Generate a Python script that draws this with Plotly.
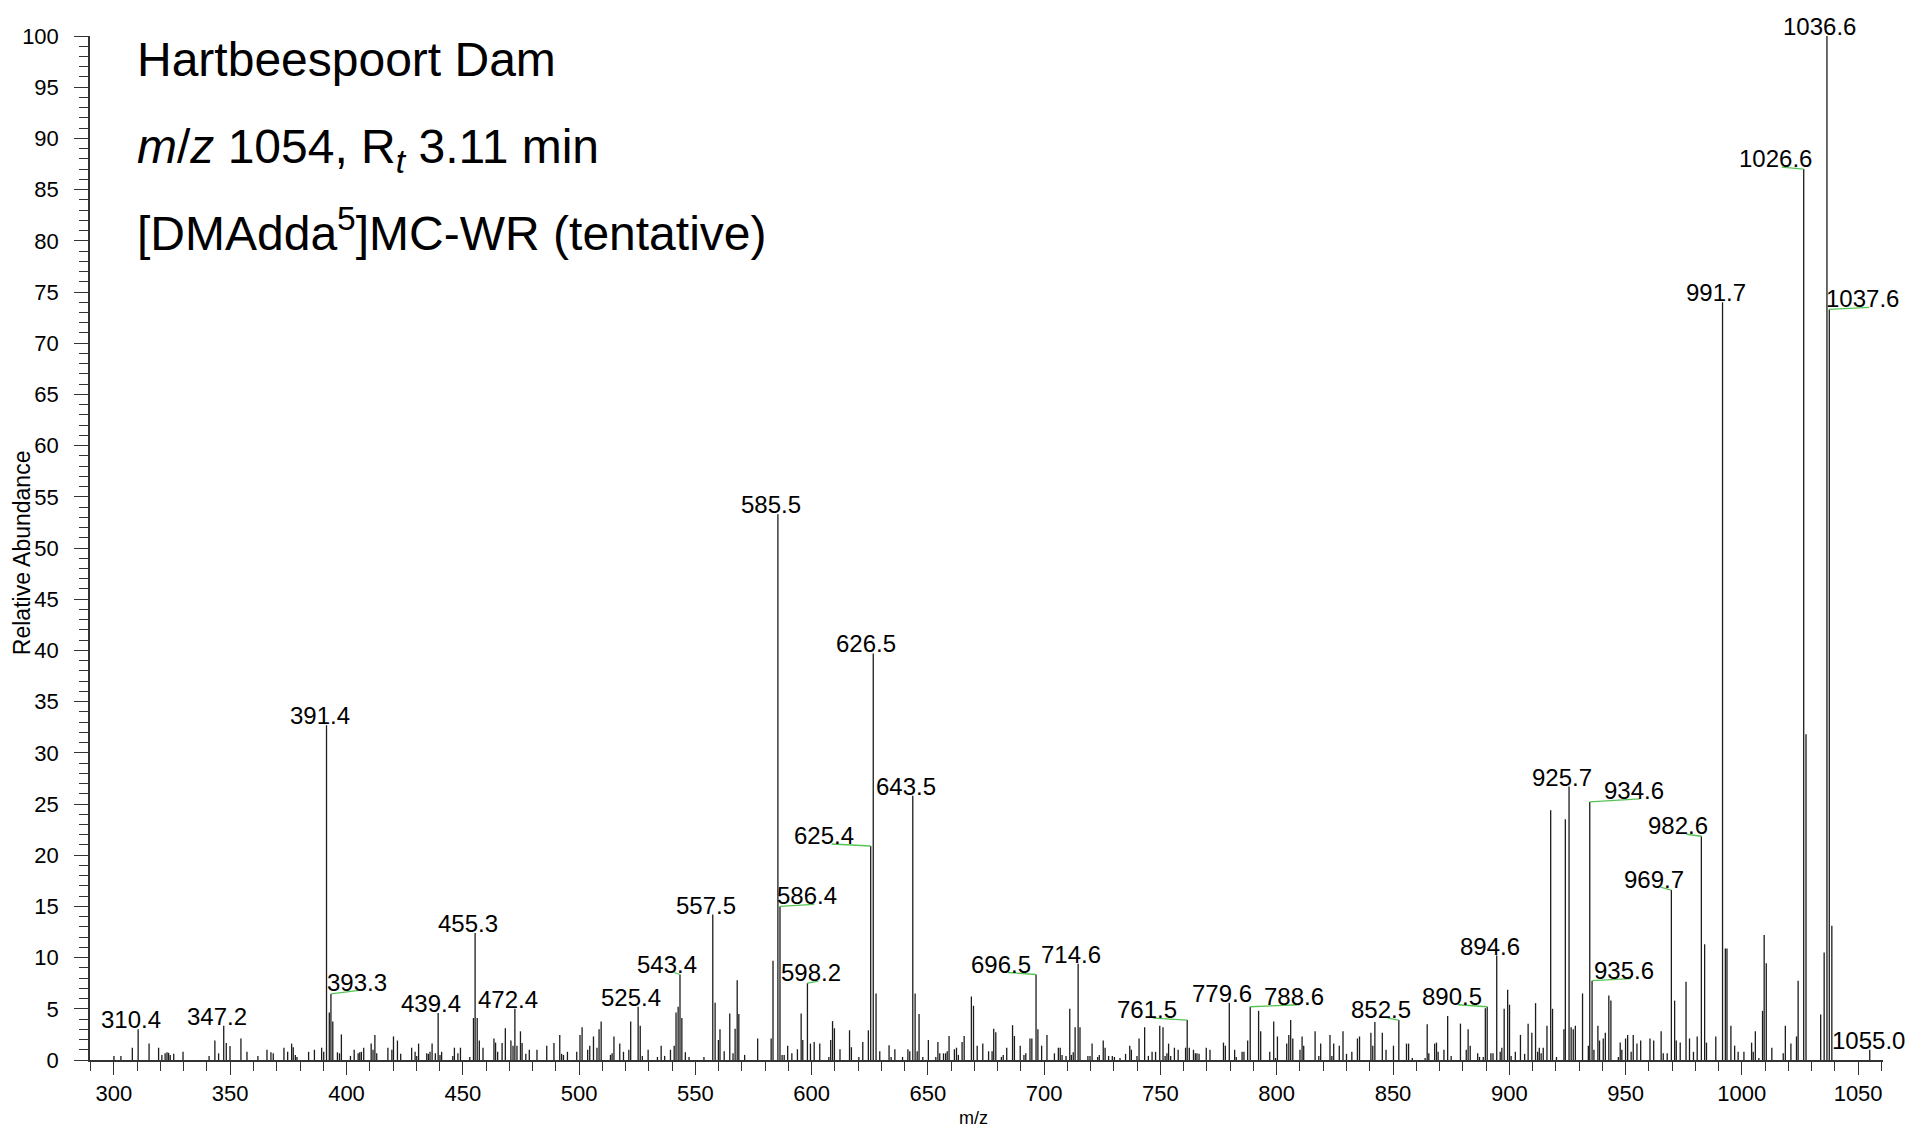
import plotly.graph_objects as go

# ---------------- data ----------------
mz = [
    300.0, 303.0, 307.9, 310.4, 315.1, 319.2, 320.6, 322.0, 322.8, 323.5, 324.2, 325.7, 329.7,
    340.9, 343.4, 345.0, 347.2, 348.3, 349.9, 354.6, 357.2, 361.9, 365.8, 367.5, 368.5, 373.1,
    374.7, 376.4, 377.1, 378.0, 378.7, 383.7, 386.2, 389.3, 390.2, 391.4, 392.6, 393.3, 394.1,
    396.1, 397.0, 397.8, 401.7, 403.3, 405.0, 405.7, 406.4, 407.4, 410.6, 411.4, 412.2, 413.0,
    417.8, 419.5, 420.2, 421.9, 423.3,
    428.0, 429.5, 430.2, 431.0, 434.5, 435.2, 435.9, 436.8, 438.2, 439.4, 440.2, 440.9, 445.7,
    446.4, 447.9, 449.0, 453.0, 454.6, 455.3, 456.2, 457.1, 458.7, 463.4, 464.1, 465.0, 466.9,
    468.3, 470.7, 471.6, 472.4, 473.3, 474.8, 475.5, 477.1, 478.6, 481.9, 486.1, 489.2, 491.7,
    492.5, 493.3, 495.0, 499.0, 500.4, 501.3, 503.7, 504.6, 506.2, 507.7, 508.6, 509.5, 513.5,
    514.2, 515.0, 517.5, 519.1, 521.4, 522.2, 525.4, 526.3, 527.2, 529.7, 533.7, 535.3, 536.8,
    539.3, 540.9, 541.7, 542.6, 543.4, 544.2, 545.7, 547.3, 553.7, 557.5, 558.5,
    559.9, 560.6, 562.4, 564.8, 566.2, 567.1, 568.0, 568.7, 571.2, 576.8, 582.6, 583.4, 585.5,
    586.4, 587.3, 588.2, 589.7, 591.5, 593.9, 595.5, 596.2, 598.2, 599.5, 601.1, 603.5, 607.4,
    608.2, 609.0, 609.8, 612.2, 616.3, 617.1, 620.3, 622.0, 624.4, 625.4, 626.5, 627.7, 629.3,
    633.3, 634.2, 635.8, 639.1, 641.4, 642.2, 643.5, 644.5, 645.4, 646.2, 647.8, 650.2, 653.4,
    654.3, 655.1, 656.7, 657.6, 658.3, 659.1, 661.4, 662.3, 663.1, 664.7, 665.6, 668.7, 669.6,
    671.2, 673.6, 676.1, 677.6, 678.3, 679.2, 681.6, 682.4, 683.9, 686.4, 687.2, 689.7, 691.3,
    692.1, 693.9, 694.7,
    696.5, 697.3, 698.9, 701.2, 704.4, 706.1, 706.9, 707.7, 709.4, 711.0, 711.7, 712.5, 713.3,
    714.6, 715.4, 718.8, 719.7, 720.6, 723.0, 723.7, 725.4, 726.2, 727.7, 729.3, 730.2, 732.6,
    735.0, 736.8, 737.5, 739.9, 740.8, 743.2, 744.8, 746.4, 747.9, 749.7, 751.1, 752.0, 752.8,
    753.5, 754.4, 756.0, 757.6, 760.8, 761.5, 762.4, 764.2, 765.0, 765.7, 766.6, 769.7, 771.3,
    777.1, 777.9, 779.6, 781.9, 782.6, 785.1, 785.9, 787.5, 788.6, 792.2, 793.1, 797.0, 798.7,
    799.5, 800.3, 804.3, 805.2, 806.0, 806.9, 810.0, 810.9, 811.6, 816.5, 818.1, 818.9, 822.9,
    823.7, 824.5, 826.9, 828.5, 830.0,
    832.3, 834.7, 835.6, 840.5, 841.3, 842.2, 845.4, 847.0, 850.2, 852.5, 855.8, 856.7, 858.3,
    863.8, 864.7, 865.4, 867.9, 868.7, 869.4, 871.9, 873.5, 875.0, 879.0, 881.5, 882.3, 883.2,
    886.4, 887.2, 888.8, 889.7, 890.5, 892.1, 893.0, 894.6, 896.1, 896.8, 897.8, 899.3, 900.1,
    900.8, 902.6, 904.8, 906.6, 908.1, 909.7, 911.3, 912.2, 912.9, 913.7, 914.6, 916.2, 917.8,
    918.6, 920.3, 923.5, 924.1, 925.7, 926.6, 927.5, 928.4, 931.5, 934.0, 934.6, 935.6, 936.4,
    938.1, 938.8, 940.4, 941.3, 942.8, 943.7, 946.9, 947.7, 948.4, 950.0, 950.9, 952.4, 953.3,
    954.9, 956.5, 960.5, 962.1, 965.3,
    966.2, 967.9, 969.7, 971.1, 971.8, 973.5, 976.0, 977.5, 979.2, 980.8, 982.6, 984.0, 984.8,
    988.8, 991.7, 992.9, 993.6, 995.3, 996.9, 998.4, 1000.9, 1004.2, 1004.9, 1005.8, 1007.3,
    1008.9, 1009.6, 1010.5, 1012.9, 1017.8, 1018.7, 1021.1, 1023.5, 1024.2, 1026.6, 1027.6,
    1033.9, 1035.4, 1036.6, 1037.6, 1038.7, 1055.0,
]
intensity = [
    0.4, 0.4, 1.2, 3.0, 1.6, 1.2, 0.5, 0.65, 0.75, 0.7, 0.5, 0.6, 0.8,
    0.4, 1.9, 0.65, 3.35, 1.66, 1.37, 2.1, 0.8, 0.4, 1.0, 0.75, 0.65, 1.2,
    0.8, 1.6, 1.25, 0.5, 0.3, 0.8, 1.0, 1.2, 0.8, 32.7, 4.65, 6.45, 3.75,
    0.75, 0.65, 2.5, 0.4, 1.0, 0.65, 0.75, 0.8, 1.2, 1.6, 1.0, 2.45, 0.65,
    1.2, 1.0, 2.3, 1.9, 0.6,
    1.2, 0.8, 0.4, 1.6, 0.65, 0.6, 0.8, 1.6, 0.65, 4.6, 0.5, 0.8, 0.4,
    1.2, 0.65, 1.2, 0.3, 4.1, 12.4, 4.1, 1.9, 1.2, 2.1, 1.7, 0.8, 1.66,
    3.1, 1.9, 1.4, 5.0, 1.4, 2.8, 1.66, 0.6, 1.0, 1.0, 1.4, 1.66, 2.45,
    0.6, 0.5, 0.8, 0.8, 2.45, 3.2, 1.0, 1.4, 2.3, 1.2, 3.0, 3.75, 0.5,
    0.65, 2.3, 1.6, 0.8, 1.0, 3.75, 5.2, 3.35, 0.4, 1.0, 0.3, 1.4, 0.4,
    1.0, 1.4, 4.65, 5.2, 8.35, 4.1, 0.75, 0.3, 0.3, 14.2, 5.6,
    1.95, 3.0, 0.85, 4.55, 0.65, 3.05, 7.8, 4.5, 0.5, 2.1, 2.1, 9.7, 53.3,
    15.0, 0.5, 0.5, 1.4, 0.65, 1.05, 4.55, 1.95, 7.5, 1.6, 1.75, 1.6, 0.3,
    1.95, 3.8, 3.1, 1.05, 2.9, 1.25, 0.3, 1.75, 2.9, 20.9, 39.7, 6.5, 0.85,
    1.45, 0.3, 1.05, 0.3, 1.05, 0.85, 25.8, 6.5, 0.85, 4.5, 0.3, 1.95, 0.3,
    1.75, 0.65, 0.65, 0.65, 0.85, 2.35, 1.05, 1.2, 0.5, 1.75, 2.35, 6.2, 5.3,
    1.4, 1.6, 0.85, 0.85, 3.05, 2.7, 0.3, 0.5, 1.2, 3.4, 2.35, 1.4, 0.5,
    0.65, 2.1, 2.1,
    8.35, 3.0, 1.4, 2.45, 0.65, 1.2, 1.2, 0.5, 0.4, 5.0, 0.5, 0.75, 3.2,
    9.4, 3.2, 0.4, 0.4, 1.6, 0.3, 0.5, 1.9, 1.2, 0.4, 0.4, 0.3, 0.2,
    0.6, 1.4, 1.0, 0.4, 2.1, 3.2, 0.4, 0.8, 0.8, 3.35, 3.2, 0.4, 0.65,
    1.6, 0.4, 1.2, 1.0, 1.2, 3.9, 1.2, 1.0, 0.65, 0.65, 0.6, 1.2, 1.0,
    1.7, 1.4, 5.6, 1.0, 0.3, 0.8, 0.8, 1.9, 5.2, 4.8, 2.8, 0.8, 3.75,
    0.2, 2.3, 1.6, 2.45, 3.9, 2.1, 1.0, 2.3, 1.4, 2.8, 0.4, 1.6, 2.45,
    0.4, 1.6, 1.4, 2.8, 0.6,
    0.8, 2.1, 2.3, 2.65, 1.4, 3.7, 2.65, 1.0, 1.4, 3.9, 1.6, 1.6, 0.2,
    0.2, 3.5, 0.65, 1.6, 1.7, 0.8, 1.0, 4.3, 0.4, 3.55, 1.0, 3.0, 1.4,
    0.65, 0.3, 0.3, 5.05, 5.2, 0.65, 0.65, 10.2, 0.8, 1.2, 5.0, 6.85, 5.4,
    0.4, 0.8, 2.45, 0.6, 3.55, 2.65, 5.55, 0.8, 1.2, 0.65, 1.2, 3.35, 24.4,
    5.0, 0.3, 3.0, 23.5, 26.7, 3.2, 3.0, 3.35, 6.5, 1.4, 25.2, 7.75, 1.0,
    3.35, 1.9, 2.1, 2.65, 6.3, 5.8, 0.3, 1.7, 1.0, 2.1, 2.45, 0.8, 2.45,
    1.6, 1.9, 2.1, 1.9, 2.8,
    0.65, 0.65, 16.6, 5.8, 1.9, 1.7, 7.65, 2.1, 0.8, 2.3, 21.85, 11.3, 1.7,
    2.3, 74.0, 10.9, 10.9, 3.35, 1.4, 0.8, 0.8, 1.7, 0.8, 2.8, 0.2,
    4.8, 12.2, 9.45, 1.2, 0.65, 3.35, 1.6, 2.3, 7.75, 87.0, 31.8,
    4.45, 10.5, 100.0, 73.3, 13.1, 1.0,
]

# labelled peaks (m/z values, printed with one decimal)
label_mz = [
    310.4, 347.2, 391.4, 393.3, 439.4, 455.3, 472.4, 525.4, 543.4, 557.5, 585.5, 586.4,
    598.2, 625.4, 626.5, 643.5, 696.5, 714.6, 761.5, 779.6, 788.6, 852.5, 890.5, 894.6,
    925.7, 934.6, 935.6, 969.7, 982.6, 991.7, 1026.6, 1036.6, 1037.6, 1055.0,
]

title_lines = [
    "Hartbeespoort Dam",
    "<i>m</i>/<i>z</i> 1054, R<sub><i>t</i></sub> 3.11 min",
    "[DMAdda<sup>5</sup>]MC-WR (tentative)",
]
x_title = "m/z"
y_title = "Relative Abundance"

# ---------------- label placement (pixels, layout only) ----------------
# m/z -> (text x shift, leader-line end x shift, leader-line end y shift)
label_offsets = {
    393.3: (26, 32, 4),
    543.4: (-13, -6, 2),
    586.4: (27, 34, 2),
    598.2: (4, 11, 2),
    625.4: (-47, -39, 2),
    696.5: (-35, -28, 2),
    761.5: (-40, -34, 2),
    788.6: (44, 49, 2),
    852.5: (-18, -11, 2),
    890.5: (-35, -29, 2),
    935.6: (32, 39, 2),
    934.6: (44, 50, 3),
    982.6: (-23, -15, 2),
    969.7: (-17, -11, 3),
    1026.6: (-28, -22, 2),
    1037.6: (33, 40, 2),
    1055.0: (-1, None, 0),
}
DEFAULT_DX = -7
TEXT_DY = -6

FONT = "Liberation Sans, Arial, sans-serif"
STICK_COLOR = "#1c1c1c"
LEADER_COLOR = "#55c455"

# ---------------- build figure ----------------
xs, ys = [], []
for m, v in zip(mz, intensity):
    xs += [m, m, None]
    ys += [0, v, None]

fig = go.Figure()
fig.add_trace(go.Scatter(x=xs, y=ys, mode="lines",
                         line=dict(color=STICK_COLOR, width=1.3),
                         hoverinfo="skip", showlegend=False))

peak_lookup = dict(zip(mz, intensity))
annotations = []
shapes = []
for m in label_mz:
    v = peak_lookup[m]
    dx, lx, ly = label_offsets.get(m, (DEFAULT_DX, None, 0))
    annotations.append(dict(
        x=m, y=v, xref="x", yref="y", text=f"{m:.1f}", showarrow=False,
        xanchor="center", yanchor="bottom", xshift=dx, yshift=TEXT_DY + 0.5 * ly,
        font=dict(family=FONT, size=24, color="black"),
    ))
    if lx is not None:
        shapes.append(dict(
            type="line", xref="x", yref="y",
            xsizemode="pixel", ysizemode="pixel",
            xanchor=m, yanchor=v, x0=0, x1=lx, y0=0, y1=ly,
            line=dict(color=LEADER_COLOR, width=1.3),
        ))

title_y = [0.9775, 0.8886, 0.8106]
for txt, ty in zip(title_lines, title_y):
    annotations.append(dict(
        x=0.0251, y=ty, xref="paper", yref="paper", text=txt, showarrow=False,
        xanchor="left", yanchor="middle",
        font=dict(family=FONT, size=48, color="black"),
    ))

annotations.append(dict(
    x=-0.0379, y=0.495, xref="paper", yref="paper", text=y_title, showarrow=False,
    textangle=-90, xanchor="center", yanchor="middle",
    font=dict(family=FONT, size=23, color="black"),
))
annotations.append(dict(
    x=0.493, y=-0.0566, xref="paper", yref="paper", text=x_title, showarrow=False,
    xanchor="center", yanchor="middle",
    font=dict(family=FONT, size=18, color="black"),
))

fig.update_layout(
    width=1912, height=1123,
    margin=dict(l=82, r=37, t=28, b=71),
    paper_bgcolor="white", plot_bgcolor="white",
    annotations=annotations, shapes=shapes,
    showlegend=False,
    font=dict(family=FONT, size=22, color="black"),
)
fig.update_xaxes(
    range=[289.7, 1060.7], tick0=300, dtick=50,
    showgrid=False, zeroline=False,
    showline=True, linecolor="#333333", linewidth=1.5,
    ticks="outside", ticklen=13, tickwidth=1.3, tickcolor="#333333",
    ticklabelstandoff=0,
    tickfont=dict(family=FONT, size=22, color="black"),
    minor=dict(tick0=290, dtick=10, ticks="outside", ticklen=9,
               tickwidth=1.2, tickcolor="#333333", showgrid=False),
)
fig.update_yaxes(
    range=[0, 100], tick0=0, dtick=5,
    showgrid=False, zeroline=False,
    showline=True, linecolor="#333333", linewidth=1.5,
    ticks="outside", ticklen=14, tickwidth=1.3, tickcolor="#333333",
    ticklabelstandoff=11,
    tickfont=dict(family=FONT, size=22, color="black"),
    minor=dict(tick0=0, dtick=1, ticks="outside", ticklen=9,
               tickwidth=1.2, tickcolor="#333333", showgrid=False),
)

fig.write_html("out.html")
